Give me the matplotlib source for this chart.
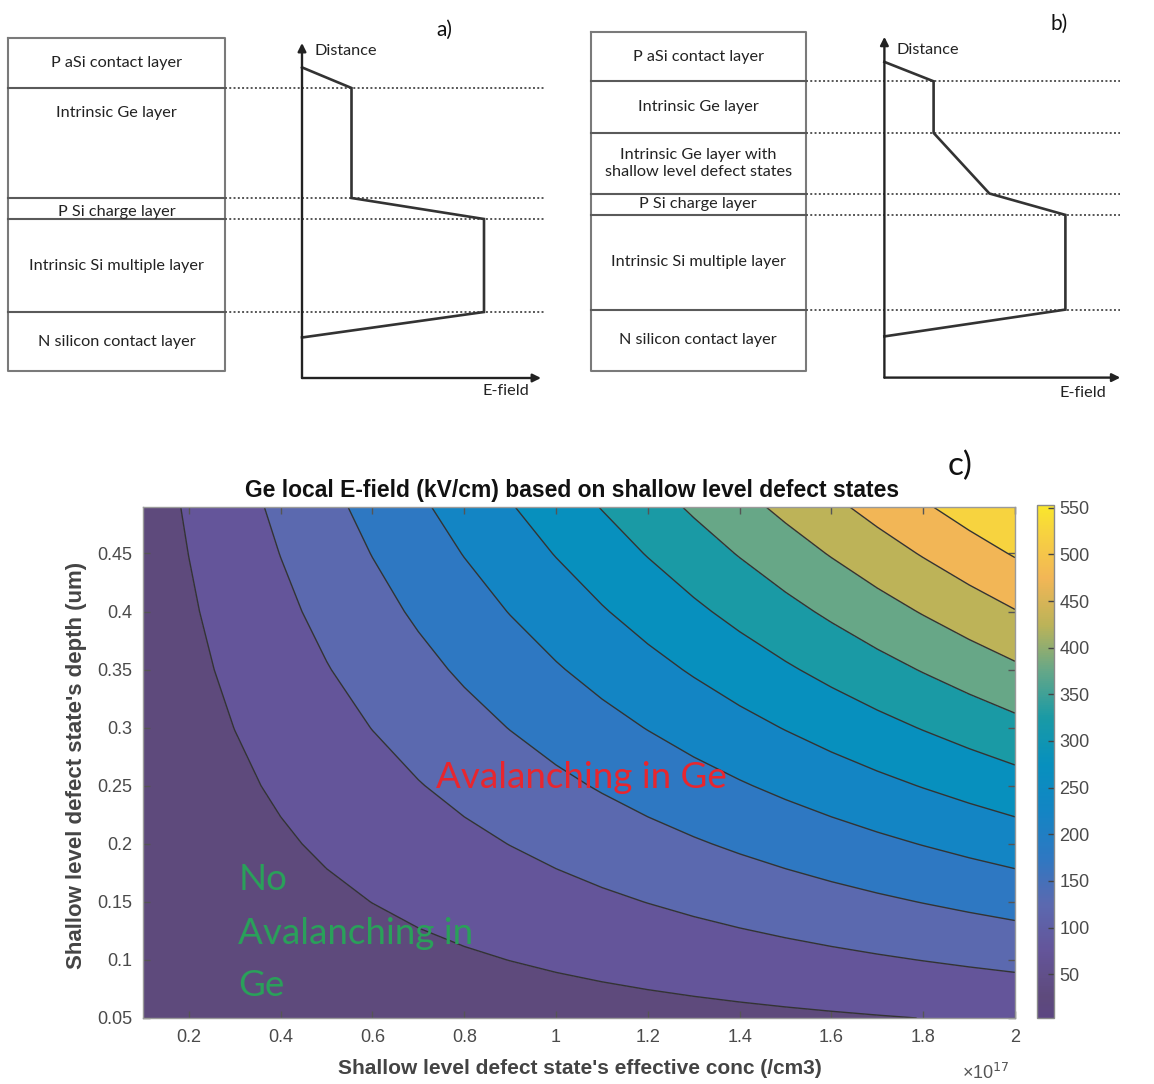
import matplotlib
matplotlib.use("Agg")
import matplotlib.pyplot as plt
from matplotlib.colors import LinearSegmentedColormap, Normalize
from matplotlib.cm import ScalarMappable
from matplotlib.ticker import FuncFormatter

W, H = 1154, 1084

# ---------------- schematic data (a) ----------------
a_layers = ["P aSi contact layer", "Intrinsic Ge layer", "P Si charge layer",
            "Intrinsic Si multiple layer", "N silicon contact layer"]
a_bounds = [340, 290, 180, 159, 66, 7]          # distance of layer interfaces
a_label_d = [315, 265, 166, 112, 36]
a_prof_E = [0, 49.5, 49.5, 182, 182, 0]          # E-field profile
a_prof_d = [310.6, 290, 180, 159, 66, 40.5]

# ---------------- schematic data (b) ----------------
b_layers = ["P aSi contact layer", "Intrinsic Ge layer",
            "Intrinsic Ge layer with\nshallow level defect states",
            "P Si charge layer", "Intrinsic Si multiple layer", "N silicon contact layer"]
b_bounds = [345.8, 296.3, 244.7, 184.1, 162.7, 68.0, 6.8]
b_label_d = [321, 270.5, 214.4, 173.4, 115.4, 37.4]
b_prof_E = [0, 49.2, 49.2, 105, 181, 181, 0]
b_prof_d = [315.7, 296.3, 244.7, 184.1, 162.7, 68, 41.2]

# ---------------- contour data (c) ----------------
conc = [0.1, 0.2, 0.3, 0.4, 0.5, 0.6, 0.7, 0.8, 0.9, 1.0,
        1.1, 1.2, 1.3, 1.4, 1.5, 1.6, 1.7, 1.8, 1.9, 2.0]       # x1e17 /cm3
depth = [0.05, 0.10, 0.15, 0.20, 0.25, 0.30, 0.35, 0.40, 0.45, 0.49]  # um
E_field = [
    [2.8, 5.6, 8.4, 11.2, 14, 16.8, 19.6, 22.4, 25.2, 28, 30.8, 33.6, 36.4, 39.2, 42, 44.8, 47.6, 50.4, 53.2, 56],
    [5.6, 11.2, 16.8, 22.4, 28, 33.6, 39.2, 44.8, 50.4, 56, 61.6, 67.2, 72.8, 78.4, 84, 89.6, 95.2, 100.8, 106.4, 112],
    [8.4, 16.8, 25.2, 33.6, 42, 50.4, 58.8, 67.2, 75.6, 84, 92.4, 100.8, 109.2, 117.6, 126, 134.4, 142.8, 151.2, 159.6, 168],
    [11.2, 22.4, 33.6, 44.8, 56, 67.2, 78.4, 89.6, 100.8, 112, 123.2, 134.4, 145.6, 156.8, 168, 179.2, 190.4, 201.6, 212.8, 224],
    [14, 28, 42, 56, 70, 84, 98, 112, 126, 140, 154, 168, 182, 196, 210, 224, 238, 252, 266, 280],
    [16.8, 33.6, 50.4, 67.2, 84, 100.8, 117.6, 134.4, 151.2, 168, 184.8, 201.6, 218.4, 235.2, 252, 268.8, 285.6, 302.4, 319.2, 336],
    [19.6, 39.2, 58.8, 78.4, 98, 117.6, 137.2, 156.8, 176.4, 196, 215.6, 235.2, 254.8, 274.4, 294, 313.6, 333.2, 352.8, 372.4, 392],
    [22.4, 44.8, 67.2, 89.6, 112, 134.4, 156.8, 179.2, 201.6, 224, 246.4, 268.8, 291.2, 313.6, 336, 358.4, 380.8, 403.2, 425.6, 448],
    [25.2, 50.4, 75.6, 100.8, 126, 151.2, 176.4, 201.6, 226.8, 252, 277.2, 302.4, 327.6, 352.8, 378, 403.2, 428.4, 453.6, 478.8, 504],
    [27.4, 54.9, 82.3, 109.8, 137.2, 164.6, 192.1, 219.5, 247, 274.4, 301.8, 329.3, 356.7, 384.2, 411.6, 439, 466.5, 493.9, 521.4, 548.8],
]
levels = [0, 50, 100, 150, 200, 250, 300, 350, 400, 450, 500, 550]
cbar_ticks = [50, 100, 150, 200, 250, 300, 350, 400, 450, 500, 550]
x_ticks = [0.2, 0.4, 0.6, 0.8, 1.0, 1.2, 1.4, 1.6, 1.8, 2.0]
y_ticks = [0.05, 0.10, 0.15, 0.20, 0.25, 0.30, 0.35, 0.40, 0.45]

SANS = ["Lato", "DejaVu Sans"]
ARIAL = ["Liberation Sans", "DejaVu Sans"]

fig = plt.figure(figsize=(W / 100, H / 100), dpi=100)
fig.patch.set_facecolor("white")


def schematic(rect, xlim, ylim, layers, bounds, label_d, box_x, prof_E, prof_d,
              dot_end, ax_top, ax_right, dist_xy, ef_xy, tag, tag_xy):
    ax = fig.add_axes(rect)
    ax.set_xlim(*xlim)
    ax.set_ylim(*ylim)
    ax.axis("off")
    # layer box
    ax.plot([box_x[0], box_x[1], box_x[1], box_x[0], box_x[0]],
            [bounds[0], bounds[0], bounds[-1], bounds[-1], bounds[0]],
            color="#7a7a7a", lw=1.5)
    for b in bounds[1:-1]:
        ax.plot(box_x, [b, b], color="#5a5a5a", lw=1.5)
        ax.plot([box_x[1], dot_end], [b, b], color="#555555", lw=1.4,
                linestyle=(0, (1, 1.2)))
    cx = (box_x[0] + box_x[1]) / 2
    for lab, d in zip(layers, label_d):
        ax.text(cx, d, lab, ha="center", va="center", fontsize=11.7,
                family=SANS, color="#222222", linespacing=1.3)
    # axes arrows
    ax.annotate("", xy=(0, ax_top), xytext=(0, 0),
                arrowprops=dict(arrowstyle="-|>", color="#222222", lw=1.7,
                                mutation_scale=12, shrinkA=0, shrinkB=0))
    ax.annotate("", xy=(ax_right, 0), xytext=(0, 0),
                arrowprops=dict(arrowstyle="-|>", color="#222222", lw=1.7,
                                mutation_scale=12, shrinkA=0, shrinkB=0))
    ax.plot(prof_E, prof_d, color="#333333", lw=1.9, solid_joinstyle="miter")
    ax.text(dist_xy[0], dist_xy[1], "Distance", ha="left", va="center",
            fontsize=11.7, family=SANS, color="#222222")
    ax.text(ef_xy[0], ef_xy[1], "E-field", ha="center", va="center",
            fontsize=11.7, family=SANS, color="#222222")
    ax.text(tag_xy[0], tag_xy[1], tag, ha="center", va="center",
            fontsize=15, family=SANS, color="#111111")


schematic([0, 1 - 410 / H, 560 / W, 410 / H], (-302, 258), (-32, 378),
          a_layers, a_bounds, a_label_d, (-294, -77), a_prof_E, a_prof_d,
          243, 335, 239, (13, 326.6), (203.5, -13), "a)", (142, 348.4))
schematic([580 / W, 1 - 410 / H, 574 / W, 410 / H], (-304.4, 269.6), (-32.4, 377.6),
          b_layers, b_bounds, b_label_d, (-293.4, -78.9), b_prof_E, b_prof_d,
          235.6, 340.8, 235.9, (11.6, 328), (198, -15.4), "b)", (174.6, 354))

# ---------------- contour plot ----------------
anchor_vals = [3, 25, 75, 125, 175, 225, 275, 325, 375, 425, 475, 525, 553]
anchor_cols = ["#5c4682", "#5e4a7c", "#64559a", "#5b69b0", "#2e78c2", "#1385c4",
               "#0790be", "#1a9aa5", "#65a788", "#bcb358", "#f2b656", "#f7d33f",
               "#f9e62c"]
vmin, vmax = anchor_vals[0], anchor_vals[-1]
cmap = LinearSegmentedColormap.from_list(
    "washed_parula",
    [((v - vmin) / (vmax - vmin), c) for v, c in zip(anchor_vals, anchor_cols)])
norm = Normalize(vmin=vmin, vmax=vmax)

ax = fig.add_axes([143 / W, 66 / H, 872 / W, 511 / H])
ax.contourf(conc, depth, E_field, levels=levels, cmap=cmap, norm=norm)
ax.contour(conc, depth, E_field, levels=levels[1:], colors="#333333", linewidths=1.0)
ax.set_xlim(conc[0], conc[-1])
ax.set_ylim(depth[0], depth[-1])
ax.set_xticks(x_ticks)
ax.set_yticks(y_ticks)
fmt = FuncFormatter(lambda v, p: "%g" % round(v, 2))
ax.xaxis.set_major_formatter(fmt)
ax.yaxis.set_major_formatter(fmt)
ax.tick_params(direction="in", length=5, width=1, color="#555555",
               labelcolor="#4a4a4a", labelsize=13, top=True, right=True, pad=8)
for lab in ax.get_xticklabels() + ax.get_yticklabels():
    lab.set_family(ARIAL)
for s in ax.spines.values():
    s.set_color("#9a9a9a")
    s.set_linewidth(1.0)

ax.text(1.055, 0.257, "Avalanching in Ge", ha="center", va="center",
        fontsize=26.5, family=SANS, color="#e8262e")
for txt, yy in [("No", 0.169), ("Avalanching in", 0.123), ("Ge", 0.0784)]:
    ax.text(0.308, yy, txt, ha="left", va="center", fontsize=26.5, family=SANS,
            color="#2aa05a")

# colorbar
cax = fig.add_axes([1037 / W, 66 / H, 17 / W, 513 / H])
cb = fig.colorbar(ScalarMappable(norm=norm, cmap=cmap), cax=cax, ticks=cbar_ticks)
cb.outline.set_edgecolor("#8a8a8a")
cb.outline.set_linewidth(1.0)
cax.tick_params(direction="in", length=4, width=1, color="#444444",
                labelcolor="#4a4a4a", labelsize=13, pad=4)
for lab in cax.get_yticklabels():
    lab.set_family(ARIAL)

fig.text(572 / W, 1 - 491 / H, "Ge local E-field (kV/cm) based on shallow level defect states",
         ha="center", va="center", fontsize=16.5, fontweight="bold", family=ARIAL,
         color="#111111")
fig.text(77 / W, 1 - 765 / H, "Shallow level defect state's depth (um)", rotation=90,
         ha="center", va="center", fontsize=16, fontweight="bold", family=ARIAL,
         color="#444444")
fig.text(580 / W, 1 - 1069 / H, "Shallow level defect state's effective conc (/cm3)",
         ha="center", va="center", fontsize=15, fontweight="bold", family=ARIAL,
         color="#444444")
fig.text(986 / W, 1 - 1073 / H, "×10$^{17}$", ha="center", va="center",
         fontsize=13, family=ARIAL, color="#555555")
fig.text(960 / W, 1 - 466 / H, "c)", ha="center", va="center", fontsize=24,
         family=SANS, color="#111111")

fig.savefig("out.png", dpi=100, facecolor="white")
